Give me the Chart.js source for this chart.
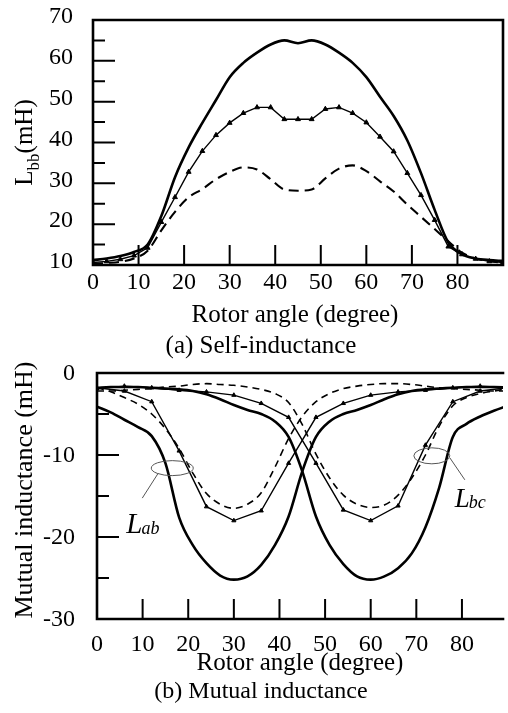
<!DOCTYPE html>
<html><head><meta charset="utf-8">
<script src="https://cdn.jsdelivr.net/npm/chart.js@4/dist/chart.umd.min.js"></script>
<style>
html,body{margin:0;padding:0;background:#fff;}
#wrap{width:508px;height:713px;position:relative;overflow:hidden;}
canvas{display:block;}
</style></head><body>
<div id="wrap">
<canvas id="c1" width="508" height="360"></canvas>
<canvas id="c2" width="508" height="353"></canvas>
</div>
<script>
// ---------- data (a) self-inductance ----------
const angles3 = [0,3,6,9,12,15,18,21,24,27,30,33,36,39,42,45,48,51,54,57,60,63,66,69,72,75,78,81,84,87,90];
const angles6 = [0,6,12,18,24,30,36,42,48,54,60,66,72,78,84,90];
const selfThick  = [11.2,11.6,12.2,13.2,15.0,22.0,31.5,38.8,44.8,50.4,56.0,59.5,62.0,64.0,65.0,64.3,65.0,64.0,62.0,59.5,56.0,51.2,46.5,40.5,32.5,23.5,15.5,12.6,11.6,11.2,11.0];
const selfMarked = [10.6,10.9,11.4,12.3,14.2,20.5,26.6,32.8,37.9,41.8,44.8,47.2,48.6,48.6,45.7,45.7,45.7,48.2,48.6,47.2,44.9,41.4,37.8,32.5,27.1,21.0,14.5,12.6,11.5,10.9,10.6];
const selfDashed = [10.3,10.5,10.8,11.6,13.5,18.5,23.0,26.6,28.6,31.0,32.8,33.9,33.4,31.0,28.5,28.2,28.5,31.2,33.6,34.4,33.0,30.5,28.0,24.8,21.8,18.8,15.8,13.0,11.6,10.9,10.6];
const xTicksTop = [0,10,20,30,40,50,60,70,80];
const xTickLabelsTop = ['0','10','20','30','40','50','60','70','80'];
const yTicksTop = [10,20,30,40,50,60,70];
const yTickLabelsTop = ['10','20','30','40','50','60','70'];
const yMajorMarksTop = [20,30,40,50,60];
const yMinorMarksTop = [15,25,35,45,55,65];
const xMarks = [10,20,30,40,50,60,70,80];

// ---------- data (b) mutual inductance ----------
const labThick  = [-4.1,-4.8,-5.7,-6.6,-7.7,-11.0,-17.6,-21.0,-23.2,-24.7,-25.2,-24.8,-23.4,-21.0,-17.5,-12.0,-7.8,-5.9,-5.0,-4.5,-3.9,-3.2,-2.6,-2.2,-2.0,-1.9,-1.8,-1.7,-1.7,-1.7,-1.8];
const lbcThick  = [-1.8,-1.7,-1.7,-1.7,-1.8,-1.9,-2.0,-2.2,-2.6,-3.2,-3.9,-4.5,-5.0,-5.9,-7.8,-12.0,-17.5,-21.0,-23.3,-24.8,-25.2,-24.8,-23.8,-22.0,-18.8,-14.0,-7.8,-6.2,-5.3,-4.6,-4.0];
const labDashed = [-1.8,-2.3,-3.0,-3.8,-5.0,-6.8,-9.2,-12.2,-14.7,-16.0,-16.5,-16.0,-14.6,-11.5,-8.0,-5.3,-3.5,-2.5,-1.9,-1.6,-1.4,-1.3,-1.3,-1.4,-1.6,-1.8,-1.9,-2.0,-2.1,-2.2,-2.2];
const lbcDashed = [-2.2,-2.2,-2.1,-2.0,-1.9,-1.7,-1.6,-1.4,-1.3,-1.4,-1.5,-1.7,-2.0,-2.5,-3.6,-6.3,-9.9,-12.8,-14.9,-16.0,-16.4,-16.1,-14.9,-12.8,-10.0,-6.5,-4.0,-3.0,-2.5,-2.2,-1.9];
const labMarked = [-1.8,-2.2,-3.5,-9.5,-16.3,-18.0,-16.8,-11.0,-5.4,-3.7,-2.7,-2.3,-2.1,-1.8,-1.6,-1.8];
const lbcMarked = [-1.9,-1.6,-1.8,-2.1,-2.3,-2.7,-3.7,-5.4,-11.0,-16.7,-18.0,-16.2,-8.8,-3.5,-2.2,-1.8];
const xTicksBot = [0,10,20,30,40,50,60,70,80];
const xTickLabelsBot = ['0','10','20','30','40','50','60','70','80'];
const yTicksBot = [0,-10,-20,-30];
const yTickLabelsBot = ['0','-10','-20','-30'];
const yMajorMarksBot = [-10,-20];
const yMinorMarksBot = [-5,-15,-25];

const SERIF = '"Liberation Serif","Times New Roman",serif';
const pts = (xs, ys) => xs.map((x, i) => ({x, y: ys[i]}));

function lineDs(data, kind, small){
  const base = {data, borderColor:'#000', backgroundColor:'#000', fill:false, pointRadius:0};
  if (kind === 'thick') return Object.assign(base, {borderWidth:2.6, cubicInterpolationMode:'monotone'});
  if (kind === 'dash') return Object.assign(base, {borderWidth: small?1.6:2.1, borderDash: small?[7,5]:[10,6], cubicInterpolationMode:'monotone'});
  return Object.assign(base, {borderWidth:1.4, tension:0, pointStyle:'triangle', pointRadius: small?2.4:2.8, pointBorderWidth:1, pointBackgroundColor:'#000', pointBorderColor:'#000'});
}

function drawFrameAndTicks(chart, cfg){
  const {ctx, chartArea:a, scales:{x, y}} = chart;
  ctx.save();
  ctx.strokeStyle = '#000';
  ctx.lineCap = 'butt';
  ctx.lineWidth = 2;
  ctx.beginPath();
  xMarks.forEach(v => { const px = x.getPixelForValue(v); ctx.moveTo(px, a.bottom); ctx.lineTo(px, a.bottom - 20); });
  cfg.yMajor.forEach(v => { const py = y.getPixelForValue(v); ctx.moveTo(a.left, py); ctx.lineTo(a.left + 22, py); });
  cfg.yMinor.forEach(v => { const py = y.getPixelForValue(v); ctx.moveTo(a.left, py); ctx.lineTo(a.left + 12, py); });
  ctx.stroke();
  ctx.lineWidth = 2.6;
  ctx.lineCap = 'square';
  ctx.beginPath();
  ctx.moveTo(a.left, a.top); ctx.lineTo(a.left, a.bottom); ctx.lineTo(a.right, a.bottom);
  ctx.moveTo(a.left, a.top); ctx.lineTo(a.right, a.top);
  if (cfg.rightBorder) { ctx.lineTo(a.right, a.bottom); }
  ctx.stroke();
  ctx.restore();
}

function scaleOpts(min, max, ticks, labels, fitSize, horiz, pad, lblOff){
  return {
    type:'linear', min, max,
    grid:{display:false, drawTicks:false},
    border:{display:false},
    afterBuildTicks: s => { s.ticks = ticks.map(v => ({value:v})); },
    afterFit: s => {
      if (horiz) s.height = fitSize; else s.width = fitSize;
      s.paddingTop = 0; s.paddingBottom = 0; s.paddingLeft = 0; s.paddingRight = 0;
    },
    ticks:{
      autoSkip:false, maxRotation:0, minRotation:0, color:'#000', padding:pad, labelOffset:lblOff,
      font:{family:SERIF, size:24},
      callback:(v, i) => labels[i]
    }
  };
}

// ---------- chart (a) ----------
new Chart(document.getElementById('c1'), {
  type:'line',
  data:{datasets:[
    lineDs(pts(angles3, selfThick), 'thick'),
    lineDs(pts(angles3, selfMarked), 'mark'),
    lineDs(pts(angles3, selfDashed), 'dash')
  ]},
  options:{
    responsive:false, animation:false, events:[],
    layout:{padding:{top:20, right:1, left:0, bottom:0}},
    plugins:{legend:{display:false}, tooltip:{enabled:false}, title:{display:false}},
    scales:{
      x: scaleOpts(0, 90, xTicksTop, xTickLabelsTop, 95, true, 3, 0),
      y: scaleOpts(10, 70, yTicksTop, yTickLabelsTop, 93, false, 20, -3)
    }
  },
  plugins:[{
    id:'decorA',
    afterDraw(chart){
      drawFrameAndTicks(chart, {yMajor:yMajorMarksTop, yMinor:yMinorMarksTop, rightBorder:true});
      const ctx = chart.ctx, a = chart.chartArea;
      ctx.save();
      ctx.fillStyle = '#000';
      ctx.textBaseline = 'alphabetic';
      ctx.textAlign = 'center';
      ctx.font = '25px ' + SERIF;
      ctx.fillText('Rotor angle (degree)', (a.left + a.right) / 2 - 3, 322);
      ctx.fillText('(a) Self-inductance', 261, 353);
      const f1 = '25px ' + SERIF, f2 = '17px ' + SERIF;
      ctx.font = f1; const wL = ctx.measureText('L').width; const wM = ctx.measureText('(mH)').width;
      ctx.font = f2; const wB = ctx.measureText('bb').width;
      const total = wL + wB + wM;
      ctx.translate(32, (a.top + a.bottom) / 2 + total / 2);
      ctx.rotate(-Math.PI / 2);
      ctx.textAlign = 'left';
      ctx.font = f1; ctx.fillText('L', 0, 0);
      ctx.font = f2; ctx.fillText('bb', wL, 7);
      ctx.font = f1; ctx.fillText('(mH)', wL + wB, 0);
      ctx.restore();
    }
  }]
});

// ---------- chart (b) ----------
const annAb = {x:16.5, y:-11.6};
const annBc = {x:73.4, y:-10.1};
new Chart(document.getElementById('c2'), {
  type:'line',
  data:{datasets:[
    lineDs(pts(angles3, labThick), 'thick'),
    lineDs(pts(angles3, lbcThick), 'thick'),
    lineDs(pts(angles3, labDashed), 'dash', true),
    lineDs(pts(angles3, lbcDashed), 'dash', true),
    lineDs(pts(angles6, labMarked), 'mark', true),
    lineDs(pts(angles6, lbcMarked), 'mark', true)
  ]},
  options:{
    responsive:false, animation:false, events:[],
    layout:{padding:{top:13, right:1, left:0, bottom:0}},
    plugins:{legend:{display:false}, tooltip:{enabled:false}, title:{display:false}},
    scales:{
      x: scaleOpts(0, 89, xTicksBot, xTickLabelsBot, 94, true, 11, 0),
      y: scaleOpts(-30, 0, yTicksBot, yTickLabelsBot, 97, false, 22, 1)
    }
  },
  plugins:[{
    id:'decorB',
    afterDraw(chart){
      drawFrameAndTicks(chart, {yMajor:yMajorMarksBot, yMinor:yMinorMarksBot, rightBorder:false});
      const ctx = chart.ctx, a = chart.chartArea, {x, y} = chart.scales;
      ctx.save();
      ctx.strokeStyle = '#555'; ctx.lineWidth = 1;
      const e1x = x.getPixelForValue(annAb.x), e1y = y.getPixelForValue(annAb.y);
      ctx.beginPath(); ctx.ellipse(e1x, e1y, 21, 7.5, 0, 0, Math.PI * 2); ctx.stroke();
      ctx.beginPath(); ctx.moveTo(e1x - 14, e1y + 5); ctx.lineTo(e1x - 30, e1y + 30); ctx.stroke();
      const e2x = x.getPixelForValue(annBc.x), e2y = y.getPixelForValue(annBc.y);
      ctx.beginPath(); ctx.ellipse(e2x, e2y, 18, 8, 0, 0, Math.PI * 2); ctx.stroke();
      ctx.beginPath(); ctx.moveTo(e2x + 18, e2y + 2); ctx.lineTo(e2x + 33, e2y + 24); ctx.stroke();
      ctx.fillStyle = '#000'; ctx.textBaseline = 'alphabetic'; ctx.textAlign = 'left';
      ctx.font = 'italic 29px ' + SERIF; ctx.fillText('L', e1x - 46, e1y + 65);
      let w = ctx.measureText('L').width;
      ctx.font = 'italic 18px ' + SERIF; ctx.fillText('ab', e1x - 46 + w - 1, e1y + 66);
      ctx.font = 'italic 27px ' + SERIF; ctx.fillText('L', e2x + 23, e2y + 51);
      w = ctx.measureText('L').width;
      ctx.font = 'italic 18px ' + SERIF; ctx.fillText('bc', e2x + 23 + w - 1, e2y + 52);
      ctx.textAlign = 'center';
      ctx.font = '25px ' + SERIF;
      ctx.fillText('Rotor angle (degree)', (a.left + a.right) / 2, 310);
      ctx.font = '24px ' + SERIF;
      ctx.fillText('(b) Mutual inductance', 261, 338);
      ctx.translate(32, 130);
      ctx.rotate(-Math.PI / 2);
      ctx.font = '26px ' + SERIF;
      ctx.fillText('Mutual inductance (mH)', 0, 0);
      ctx.restore();
    }
  }]
});
</script>
</body></html>
